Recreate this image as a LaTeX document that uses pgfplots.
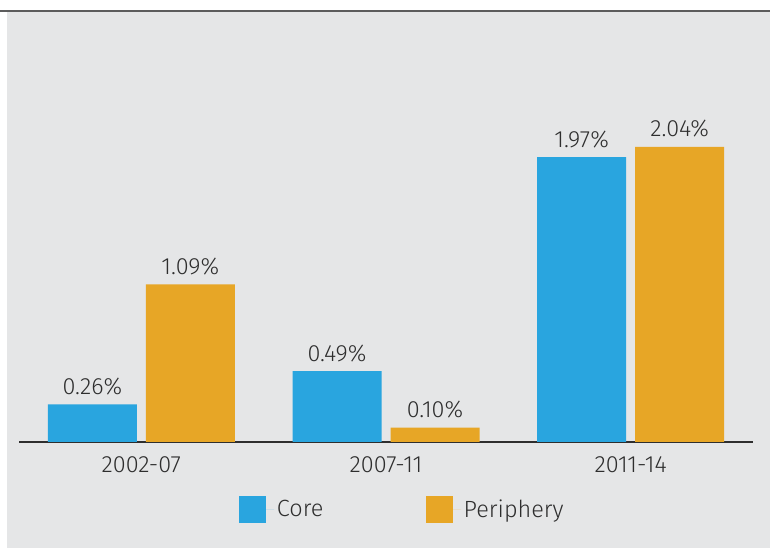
\documentclass[border=0pt]{standalone}
\usepackage{fontspec}
\setmainfont{Fira Sans}[UprightFont=* Light]
\usepackage{pgfplots}
\pgfplotsset{compat=1.18}
\definecolor{coreblue}{HTML}{29A5DF}
\definecolor{perorange}{HTML}{E7A626}
\definecolor{bg}{HTML}{E5E6E7}
\definecolor{txt}{HTML}{2E2E2E}
\definecolor{topline}{HTML}{5C5C5C}
\newcommand{\lblfont}{\fontsize{17.6}{20}\selectfont}
\begin{document}
\begin{tikzpicture}
\useasboundingbox (0,0) rectangle (577.5pt,411pt);
\fill[bg] (5.25pt,0) rectangle (577.5pt,402pt);
\fill[topline] (0,402pt) rectangle (577.5pt,403.5pt);
\begin{axis}[
  at={(14.25pt,79.5pt)}, anchor=south west,
  scale only axis, width=550.5pt, height=282pt,
  xmin=-0.5, xmax=2.5, ymin=0, ymax=2.6,
  axis x line=bottom, axis y line=none,
  x axis line style={-, color=txt, line width=0.9pt},
  xtick={0,1,2}, xticklabels={2002-07,2007-11,2011-14},
  major tick length=0pt,
  xticklabel style={anchor=base, yshift=-23.25pt, text=txt, font=\lblfont},
  ybar, bar width=66.75pt,
  clip=false,
  point meta=explicit symbolic,
  nodes near coords,
  every node near coord/.append style={anchor=base, yshift=7.5pt, text=txt, font=\lblfont},
  legend columns=2,
  legend style={at={(axis description cs:0.2997,-0.1795)}, anchor=west, draw=none, fill=none, inner sep=0pt,
    /tikz/every even column/.append style={column sep=75pt}, font=\lblfont, text=txt},
  legend cell align=left,
]
\addplot[fill=coreblue, draw=none, bar shift=-36.75pt,
  legend image code/.code={\fill[coreblue] (0pt,-10.125pt) rectangle (20.25pt,10.125pt); \path (0pt,0pt) -- (26.25pt,0pt);}]
  coordinates {(0,0.26) [0.26\%] (1,0.49) [0.49\%] (2,1.97) [1.97\%]};
\addlegendentry{Core}
\addplot[fill=perorange, draw=none, bar shift=36.75pt,
  legend image code/.code={\fill[perorange] (0pt,-10.125pt) rectangle (20.25pt,10.125pt); \path (0pt,0pt) -- (26.25pt,0pt);}]
  coordinates {(0,1.09) [1.09\%] (1,0.10) [0.10\%] (2,2.04) [2.04\%]};
\addlegendentry{Periphery}
\end{axis}
\end{tikzpicture}
\end{document}
